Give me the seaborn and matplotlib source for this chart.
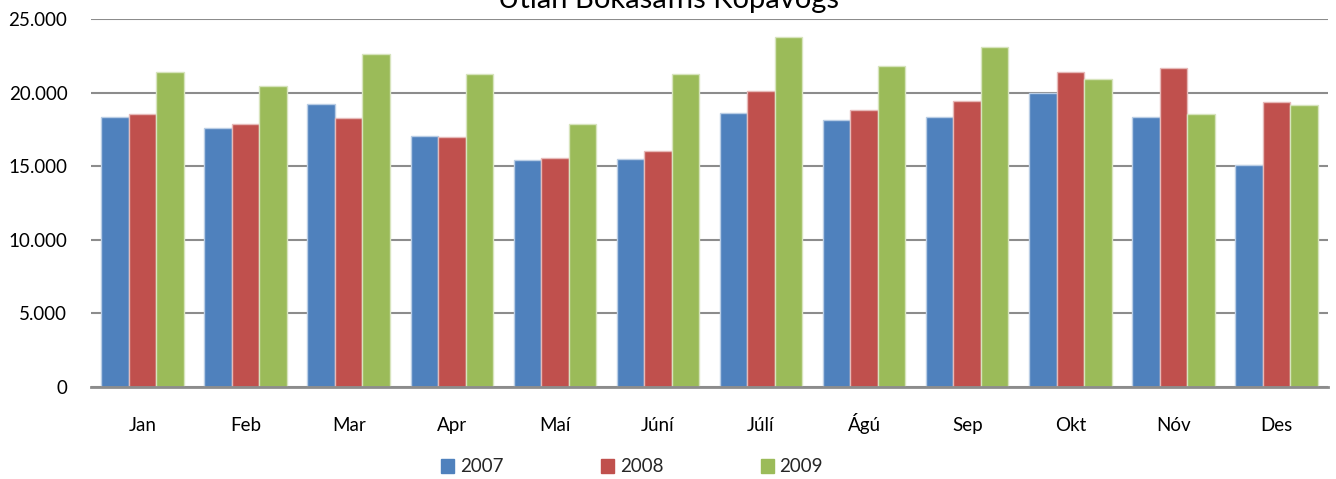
import numpy as np
import pandas as pd
import matplotlib
matplotlib.use("Agg")
import matplotlib.pyplot as plt
import seaborn as sns
from matplotlib.ticker import FuncFormatter, MultipleLocator

months = ["Jan", "Feb", "Mar", "Apr", "Maí", "Júní", "Júlí", "Ágú", "Sep", "Okt", "Nóv", "Des"]
years = ["2007", "2008", "2009"]
v2007 = [18360, 17620, 19220, 17050, 15400, 15470, 18610, 18160, 18340, 20000, 18360, 15060]
v2008 = [18540, 17860, 18290, 16960, 15560, 16010, 20140, 18840, 19440, 21410, 21680, 19380]
v2009 = [21430, 20460, 22630, 21290, 17890, 21230, 23800, 21840, 23120, 20890, 18540, 19170]
title = "Útlán Bókasafns Kópavogs"

colors = ["#4F81BD", "#C0504D", "#9BBB59"]
edges = ["#B9CDE5", "#E6B9B8", "#D7E4BD"]

df = pd.DataFrame({
    "month": months * 3,
    "year": [years[0]] * 12 + [years[1]] * 12 + [years[2]] * 12,
    "value": v2007 + v2008 + v2009,
})

sns.set_theme(style="white")
plt.rcParams["font.family"] = ["Lato", "DejaVu Sans"]

fig = plt.figure(figsize=(13.36, 4.79), dpi=100)
ax = fig.add_axes([91 / 1336, 1 - 387 / 479, (1328 - 91) / 1336, (387 - 19) / 479])

sns.barplot(data=df, x="month", y="value", hue="year", palette=colors,
            width=0.8, ax=ax, saturation=1, linewidth=1.0, gap=0)
for cont, ec in zip(ax.containers, edges):
    for bar in cont:
        bar.set_edgecolor(ec)

ax.set_ylim(0, 25000)
ax.set_xlim(-0.5, 11.5)
ax.yaxis.set_major_locator(MultipleLocator(5000))
ax.yaxis.set_major_formatter(FuncFormatter(lambda v, p: f"{int(v):,}".replace(",", ".")))
ax.grid(axis="y", color="#8C8C8C", linewidth=1.5)
ax.set_axisbelow(True)
for s in ["top", "right", "left"]:
    ax.spines[s].set_visible(False)
ax.spines["bottom"].set_color("#8C8C8C")
ax.spines["bottom"].set_linewidth(2)
ax.spines["bottom"].set_zorder(5)
ax.tick_params(axis="y", length=0, pad=17, labelsize=13.5, labelcolor="black")
ax.tick_params(axis="x", length=0, pad=31.5, labelsize=13.5, labelcolor="black")
for lbl in ax.get_xticklabels():
    lbl.set_verticalalignment("baseline")
ax.set_xlabel("")
ax.set_ylabel("")

ax.get_legend().remove()
handles = [plt.Rectangle((0, 0), 1, 1, color=c) for c in colors]
fig.legend(handles, years, loc="center", bbox_to_anchor=(632 / 1336, 1 - 467 / 479),
           ncol=3, frameon=False, fontsize=13.5, handlelength=0.7, handleheight=0.7,
           handletextpad=0.3, columnspacing=5.2)

fig.text(0.5, 1 - 8 / 479, title, ha="center", va="baseline", fontsize=21, color="black")

fig.savefig("out.png", dpi=100)
